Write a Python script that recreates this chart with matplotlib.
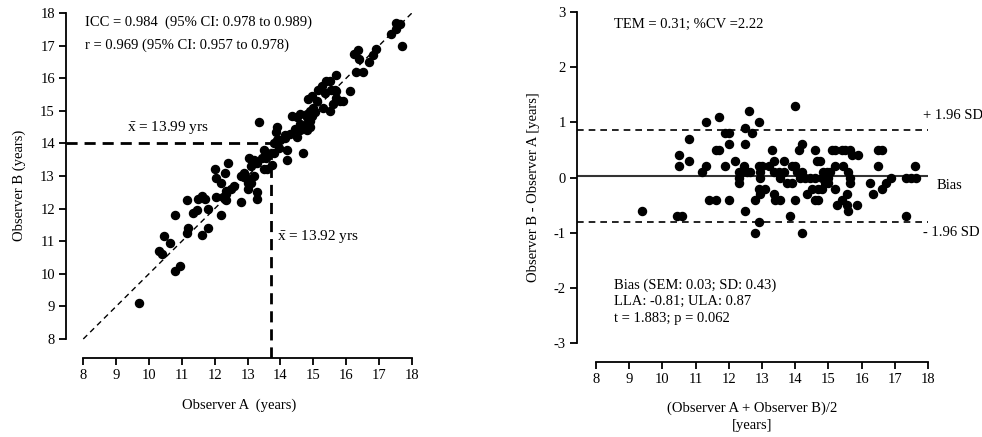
import matplotlib
matplotlib.use('Agg')

import numpy as np
import matplotlib.pyplot as plt

plt.rcParams['font.family'] = ['Liberation Serif', 'DejaVu Serif']
plt.rcParams['mathtext.fontset'] = 'custom'
plt.rcParams['mathtext.rm'] = 'Liberation Serif'
plt.rcParams['mathtext.it'] = 'Liberation Serif'
plt.rcParams['axes.unicode_minus'] = False

# --- Data (mean of observers, B - A) ---
mean_ab = [9.4, 10.45, 10.6, 10.5, 10.5, 10.8, 10.8, 11.3, 11.3, 11.2,
           11.4, 11.6, 11.6, 11.7, 11.7, 11.9, 12.0, 12.0, 11.9, 12.0,
           12.5, 12.6, 12.7, 12.9, 12.5, 14.0, 13.3, 14.2, 14.1, 14.6,
           12.2, 12.45, 12.4, 12.3, 12.55, 12.3, 12.3, 12.65, 12.9, 13.0,
           12.95, 12.95, 13.2, 13.35, 13.35, 13.5, 13.55, 13.65, 13.65, 13.75,
           13.9, 13.9, 14.0, 14.05, 14.15, 14.3, 14.45, 14.6, 14.2, 14.65,
           12.9, 13.1, 12.95, 12.8, 13.35, 13.4, 13.55, 12.5, 12.9, 12.8,
           13.85, 14.2, 14.0, 14.5, 14.35, 14.6, 14.7, 14.75, 15.1, 15.2,
           15.4, 15.5, 15.65, 15.7, 15.9, 16.5, 16.6, 14.7, 14.85, 14.95,
           15.05, 14.8, 14.9, 15.0, 14.9, 14.8, 15.0, 15.2, 15.2, 15.45,
           15.6, 15.65, 15.65, 15.25, 15.4, 15.55, 15.55, 15.6, 15.85, 16.25,
           16.35, 16.5, 16.6, 16.75, 16.9, 17.35, 17.5, 17.65, 17.6, 17.35]
diff_ba = [-0.6, -0.7, -0.7, 0.4, 0.2, 0.7, 0.3, 1.0, 0.2, 0.1,
           -0.4, -0.4, 0.5, 0.5, 1.1, 0.8, 0.8, 0.6, 0.2, -0.4,
           0.9, 1.2, 0.8, 1.0, 0.6, 1.3, 0.5, 0.6, 0.5, 0.5,
           0.3, 0.2, 0.1, 0.1, 0.1, 0.0, -0.1, 0.1, 0.2, 0.2,
           0.1, 0.0, 0.2, 0.3, 0.1, 0.1, 0.0, 0.3, 0.1, -0.1,
           -0.1, 0.2, 0.2, 0.1, 0.0, 0.0, 0.0, 0.0, 0.1, 0.3,
           -0.2, -0.2, -0.3, -0.4, -0.3, -0.4, -0.4, -0.6, -0.8, -1.0,
           -0.7, -1.0, -0.4, -0.2, -0.3, -0.4, -0.4, 0.3, 0.5, 0.5,
           0.5, 0.5, 0.5, 0.4, 0.4, 0.5, 0.5, -0.2, 0.1, 0.1,
           0.1, 0.0, 0.0, 0.0, -0.1, -0.2, -0.1, 0.2, -0.2, 0.2,
           0.1, 0.0, -0.1, -0.5, -0.4, -0.3, -0.5, -0.6, -0.5, -0.1,
           -0.3, 0.2, -0.2, -0.1, 0.0, 0.0, 0.0, 0.0, 0.2, -0.7]

mean_ab = np.array(mean_ab)
diff_ba = np.array(diff_ba)
observer_a = mean_ab - diff_ba / 2
observer_b = mean_ab + diff_ba / 2

# summary values as printed on the chart
mean_line_a = 13.7
mean_line_b = 14.0
bias = 0.03
lla = -0.81
ula = 0.87

fig = plt.figure(figsize=(9.82, 4.37), dpi=100)

def style_axes(ax):
    for s in ['top', 'right']:
        ax.spines[s].set_visible(False)
    for s in ['left', 'bottom']:
        ax.spines[s].set_linewidth(1.3)
    ax.tick_params(width=1.3, length=5, labelsize=10.5, pad=3)

# --- Left: Observer A vs Observer B ---
ax1 = fig.add_axes([0.0672, 0.1808, 0.3523, 0.7895])
ax1.set_xlim(7.474, 18)
ax1.set_ylim(7.417, 18)
style_axes(ax1)
ax1.spines['bottom'].set_bounds(8, 18)
ax1.spines['left'].set_bounds(8, 18)
ax1.set_xticks(np.arange(8, 19, 1))
ax1.set_yticks(np.arange(8, 19, 1))

ax1.plot([8, 18], [8, 18], color='black', lw=1.0, ls=(0, (4, 3)), zorder=1)
ax1.plot([7.474, mean_line_a], [mean_line_b, mean_line_b], color='black', lw=2,
         ls=(0, (4, 2.5)), zorder=1)
ax1.plot([mean_line_a, mean_line_a], [7.417, mean_line_b], color='black', lw=2,
         ls=(0, (4, 2.5)), zorder=1)
ax1.plot(observer_a, observer_b, 'o', color='black', ms=5.8, clip_on=False, zorder=3)

ax1.text(8.05, 17.73, 'ICC = 0.984  (95% CI: 0.978 to 0.989)', fontsize=10.5, va='center')
ax1.text(8.05, 17.0, 'r = 0.969 (95% CI: 0.957 to 0.978)', fontsize=10.5, va='center')
ax1.text(9.33, 14.48, r'$\bar{x}$ = 13.99 yrs', fontsize=11, va='center')
ax1.text(13.88, 11.13, r'$\bar{x}$ = 13.92 yrs', fontsize=11, va='center')

ax1.set_xlabel('Observer A  (years)', fontsize=10.5, labelpad=12)
ax1.set_ylabel('Observer B (years)', fontsize=10.5, labelpad=10)

# --- Right: Bland-Altman ---
ax2 = fig.add_axes([0.5876, 0.1716, 0.3574, 0.8009])
ax2.set_xlim(7.428, 18)
ax2.set_ylim(-3.344, 3)
style_axes(ax2)
ax2.spines['bottom'].set_bounds(8, 18)
ax2.spines['left'].set_bounds(-3, 3)
ax2.set_xticks(np.arange(8, 19, 1))
ax2.set_yticks(np.arange(-3, 4, 1))

ax2.axhline(bias, color='#333333', lw=1.5, zorder=1)
ax2.axhline(ula, color='black', lw=1.2, ls=(0, (4, 3)), zorder=1)
ax2.axhline(lla, color='black', lw=1.2, ls=(0, (4, 3)), zorder=1)
ax2.plot(mean_ab, diff_ba, 'o', color='black', ms=5.8, clip_on=False, zorder=3)

ax2.text(8.54, 2.77, 'TEM = 0.31; %CV =2.22', fontsize=10.5, va='center')
ax2.text(17.85, 1.12, '+ 1.96 SD', fontsize=10.5, va='center')
ax2.text(18.27, -0.15, 'Bias', fontsize=10.5, va='center')
ax2.text(17.85, -1.0, '- 1.96 SD', fontsize=10.5, va='center')
ax2.text(8.54, -1.95, 'Bias (SEM: 0.03; SD: 0.43)', fontsize=10.5, va='center')
ax2.text(8.54, -2.25, 'LLA: -0.81; ULA: 0.87', fontsize=10.5, va='center')
ax2.text(8.54, -2.56, 't = 1.883; p = 0.062', fontsize=10.5, va='center')

ax2.set_xlabel('(Observer A + Observer B)/2\n[years]', fontsize=10.5, labelpad=11,
               linespacing=1.45)
ax2.set_ylabel('Observer B - Observer A [years]', fontsize=10.5, labelpad=10)

plt.savefig('out.png', dpi=100)
